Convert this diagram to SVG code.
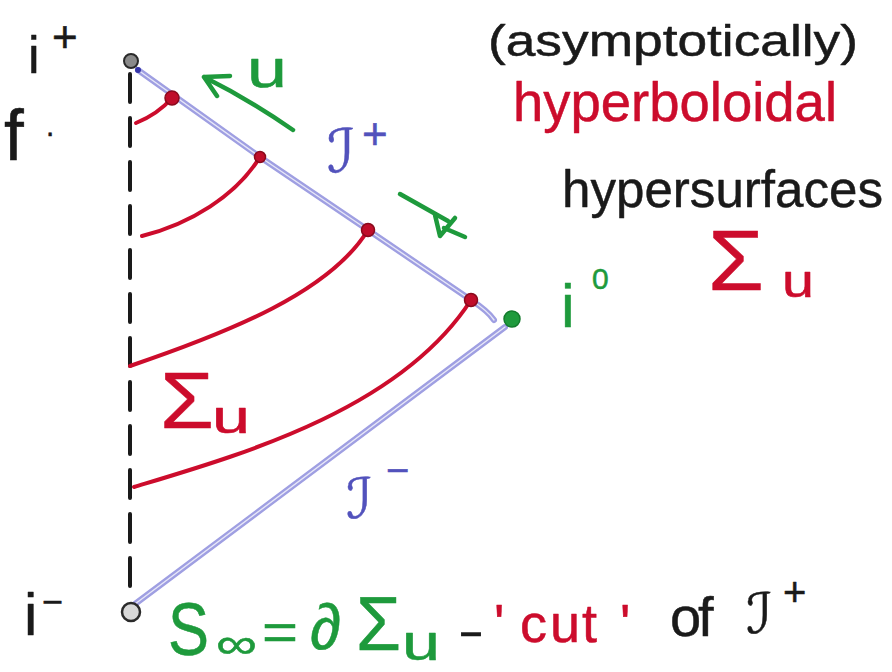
<svg xmlns="http://www.w3.org/2000/svg" width="892" height="672" viewBox="0 0 892 672">
<style>
  .t { font-family: "Liberation Sans", "DejaVu Sans", sans-serif; stroke-linejoin: round; }
  .blk { fill: #1a1a1a; stroke: #1a1a1a; stroke-width: 0.5; }
  .red { fill: #cc0c2c; stroke: #cc0c2c; stroke-width: 0.5; }
  .grn { fill: #1e9a3c; stroke: #1e9a3c; stroke-width: 0.5; }
  .blu { fill: #5252bc; stroke: #5252bc; stroke-width: 0.5; }
  .scri { fill: none; stroke: #9f9fe2; stroke-width: 6; stroke-linecap: round; stroke-linejoin: round; }
  .scri-in { fill: none; stroke: #ffffff; stroke-width: 1.4; stroke-opacity: 0.75; stroke-linecap: round; }
  .hyp { fill: none; stroke: #cc0c2c; stroke-width: 4; stroke-linecap: round; }
  .dot { fill: #c00d2a; stroke: #8a0a1c; stroke-width: 1.5; }
  .gline { fill: none; stroke: #1e9a3c; stroke-width: 4.5; stroke-linecap: round; stroke-linejoin: round; }
</style>

<g id="connectors">
  <path id="axis" d="M130,74 L130,600" fill="none" stroke="#1a1a1a" stroke-width="4" stroke-linecap="round" stroke-dasharray="28 16"/>
  <path id="scri-plus" class="scri" d="M138,70 L260,157 L368,230 L471,300 Q488,311 494,320"/>
  <path class="scri-in" d="M138,70 L260,157 L368,230 L471,300 Q488,311 494,320"/>
  <path id="scri-minus" class="scri" d="M505,327 L135,604"/>
  <path class="scri-in" d="M505,327 L135,604"/>
  <circle cx="138" cy="70" r="3" fill="#3434a8"/>
  <path id="sigma1" class="hyp" d="M136,123 Q158,114 172,98"/>
  <path id="sigma2" class="hyp" d="M142,236 C190,224 236,196 260,157"/>
  <path id="sigma3" class="hyp" d="M130,366 C230,332 330,292 368,230"/>
  <path id="sigma4" class="hyp" d="M134,487 C240,455 400,410 471,300"/>
  <path id="u-arrow" class="gline" d="M293,130 Q250,100 204,77 M204,77 L230,76 M204,77 L217,96"/>
  <path id="kappa" class="gline" d="M400,194 L448,221 M435,215 L440,236 L455,218 M444,228 L465,237" stroke-width="3.5"/>
</g>

<g id="node-i-plus">
  <circle cx="131" cy="61" r="7" fill="#8a8a8a" stroke="#2a2a2a" stroke-width="2"/>
  <text class="t blk" x="28" y="73" font-size="52">i</text>
  <text class="t blk" x="52" y="52" font-size="44">+</text>
</g>
<g id="node-i-minus">
  <circle cx="131" cy="612" r="9" fill="#d8d8d8" stroke="#2a2a2a" stroke-width="2.5"/>
  <text class="t blk" x="24" y="635" font-size="60">i</text>
  <text class="t blk" x="42" y="614" font-size="36">−</text>
</g>
<g id="node-i-zero">
  <circle cx="512" cy="319" r="8" fill="#1e9a3c" stroke="#137a2c" stroke-width="1.5"/>
  <text class="t grn" x="561" y="327" font-size="62">i</text>
  <text class="t grn" x="592" y="289" font-size="30">0</text>
</g>
<g id="nodes-cuts">
  <circle class="dot" cx="172" cy="98" r="7"/>
  <circle class="dot" cx="260" cy="157" r="5.5"/>
  <circle class="dot" cx="368" cy="230" r="6.5"/>
  <circle class="dot" cx="471" cy="300" r="6.5"/>
</g>

<g id="labels">
  <text class="t blk" x="4" y="160" font-size="72" textLength="28" lengthAdjust="spacingAndGlyphs">f<tspan x="46" dy="-24" font-size="30">.</tspan></text>
  <text class="t grn" x="247" y="87" font-size="54" textLength="40" lengthAdjust="spacingAndGlyphs">u</text>
  <text class="t blu" x="327" y="172" font-size="60">ℐ</text>
  <text class="t blu" x="362" y="149" font-size="44">+</text>
  <text class="t red" x="160" y="428" font-size="80" textLength="54" lengthAdjust="spacingAndGlyphs">Σ</text>
  <text class="t red" x="212" y="433" font-size="46" textLength="38" lengthAdjust="spacingAndGlyphs">u</text>
  <text class="t blu" x="346" y="518" font-size="56">ℐ</text>
  <text class="t blu" x="386" y="484" font-size="40">−</text>
</g>

<g id="title">
  <text class="t blk" x="488" y="56" font-size="44" textLength="370" lengthAdjust="spacingAndGlyphs">(asymptotically)</text>
  <text class="t red" x="513" y="121" font-size="55" textLength="324" lengthAdjust="spacingAndGlyphs">hyperboloidal</text>
  <text class="t blk" x="562" y="207" font-size="52" textLength="321" lengthAdjust="spacingAndGlyphs">hypersurfaces</text>
  <text class="t red" x="708" y="290" font-size="86" textLength="56" lengthAdjust="spacingAndGlyphs">Σ</text>
  <text class="t red" x="782" y="297" font-size="46" textLength="32" lengthAdjust="spacingAndGlyphs">u</text>
</g>

<g id="formula">
  <text class="t grn" x="168" y="655" font-size="75" textLength="41" lengthAdjust="spacingAndGlyphs">S</text>
  <text class="t grn" x="216" y="658" font-size="42" textLength="41" lengthAdjust="spacingAndGlyphs">∞</text>
  <text class="t grn" x="262" y="650" font-size="52" textLength="36" lengthAdjust="spacingAndGlyphs">=</text>
  <text class="t grn" x="310" y="649" font-size="64" textLength="31" lengthAdjust="spacingAndGlyphs">∂</text>
  <text class="t grn" x="356" y="650" font-size="76" textLength="45" lengthAdjust="spacingAndGlyphs">Σ</text>
  <text class="t grn" x="402" y="660" font-size="50" textLength="38" lengthAdjust="spacingAndGlyphs">u</text>
  <text class="t blk" x="458" y="646" font-size="44" textLength="26" lengthAdjust="spacingAndGlyphs">-</text>
  <text class="t red" x="494 520 550 582 620" y="642" font-size="54">'cut'</text>
  <text class="t blk" x="670 698" y="636" font-size="56">of</text>
  <text class="t blk" x="746" y="633" font-size="56">ℐ</text>
  <text class="t blk" x="783" y="606" font-size="40">+</text>
</g>
</svg>
